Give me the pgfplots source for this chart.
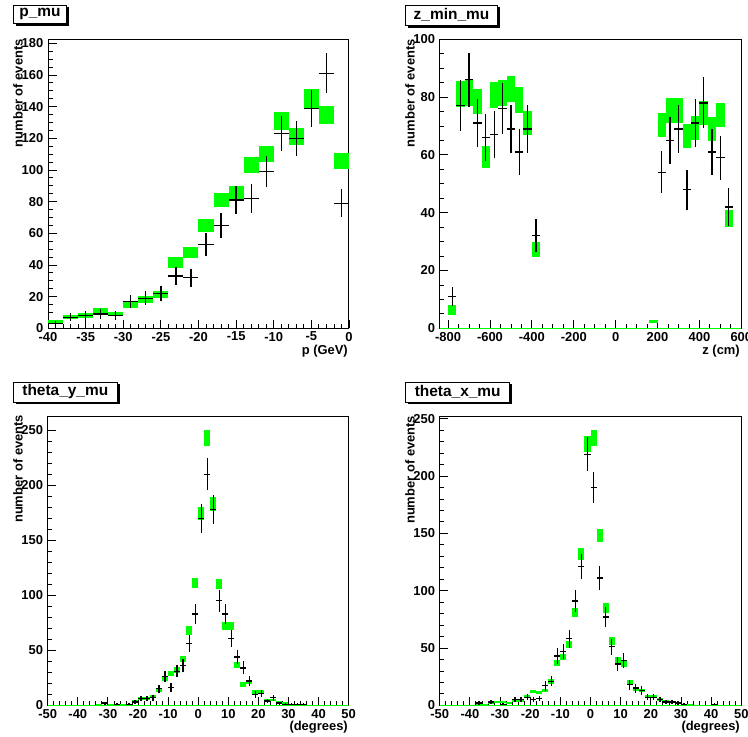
\documentclass[border=0pt]{standalone}
\usepackage{fontspec}
\setmainfont{Liberation Sans}
\usepackage{pgfplots}
\usepackage{pgfplotstable}
\pgfplotsset{compat=1.18}
\definecolor{rootgreen}{RGB}{0,255,0}

% ---------------- p_mu ----------------
\pgfplotstableread{
x mc mcerr
-39 4.4 1.05
-37 7 1.32
-35 8 1.41
-33 11.4 1.69
-31 9 1.5
-29 14.7 1.92
-27 18.3 2.14
-25 21.5 2.32
-23 41.5 3.22
-21 47.6 3.45
-19 65 4.03
-17 81 4.5
-15 85.5 4.62
-13 103 5.07
-11 110 5.24
-9 131 5.72
-7 121 5.5
-5 145 6.02
-3 134.5 5.8
-1 105.7 5.14
}\pmumc
\pgfplotstableread{
x data derr
-39 3 1.73
-37 7 2.65
-35 8 2.83
-33 9 3
-31 8 2.83
-29 17 4.12
-27 19 4.36
-25 22 4.69
-23 33 5.74
-21 32 5.66
-19 53 7.28
-17 65 8.06
-15 81 9
-13 82 9.06
-11 99 9.95
-9 123 11.09
-7 120 10.95
-5 139 11.79
-3 161 12.69
-1 79 8.89
}\pmudata

% ---------------- z_min_mu ----------------
\pgfplotstableread{
x mc mcerr
-780 6.3 1.7
-740 81 4.5
-700 81.3 4.5
-660 78.5 4.43
-620 59.4 3.85
-580 80.7 4.49
-540 81.5 4.51
-500 82.7 4.55
-460 79 4.44
-420 71 4.21
-380 27.3 2.61
180 2.3 0.6
220 70.4 4.2
260 75.5 4.34
300 75.3 4.34
340 66.5 4.08
380 69.4 4.17
420 74.5 4.32
460 68.9 4.15
500 73.8 4.3
540 38 3.08
}\zmc
\pgfplotstableread{
x data derr
-780 11 3.32
-740 77 8.77
-700 86 9.27
-660 71 8.43
-620 66 8.12
-580 67 8.19
-540 76 8.72
-500 69 8.31
-460 61 7.81
-420 69 8.31
-380 32 5.66
220 54 7.35
260 65 8.06
300 69 8.31
340 48 6.93
380 71 8.43
420 78 8.83
460 61 7.81
500 59 7.68
540 42 6.48
}\zdata

% ---------------- theta_y_mu ----------------
\pgfplotstableread{
x mc mcerr
-33 1 0.45
-31 2 0.64
-29 1 0.45
-27 1 0.45
-25 1 0.45
-23 1 0.45
-21 4 0.9
-19 6 1.1
-17 6 1.1
-15 8 1.27
-13 14 1.68
-11 24 2.2
-9 29 2.42
-7 32 2.55
-5 42 2.92
-3 68 3.71
-1 111 4.74
1 174 5.94
3 243 7.01
5 183 6.09
7 110 4.72
9 72 3.82
11 72 3.82
13 37 2.74
15 19 1.96
17 21 2.06
19 12 1.56
21 12 1.56
23 5 1.0
25 5 1.0
27 3 0.78
29 2 0.64
31 1 0.45
33 1 0.45
35 1 0.45
}\tymc
\pgfplotstableread{
x data derr
-31 2 1.41
-27 1 1
-23 1 1
-21 3 1.73
-19 6 2.45
-17 6 2.45
-15 7 2.65
-13 15 3.87
-11 26 5.1
-9 16 4
-7 31 5.57
-5 36 6
-3 56 7.48
-1 83 9.11
1 170 13.04
3 210 14.49
5 178 13.34
7 95 9.75
9 83 9.11
11 61 7.81
13 44 6.63
15 34 5.83
17 22 4.69
19 10 3.16
21 11 3.32
23 4 2
25 7 2.65
27 2 1.41
29 1 1
31 1 1
33 1 1
35 1 1
}\tydata

% ---------------- theta_x_mu ----------------
\pgfplotstableread{
x mc mcerr
-37 1 0.45
-35 1 0.45
-33 2 0.64
-31 3 0.78
-29 3 0.78
-27 2 0.64
-25 4 0.9
-23 4 0.9
-21 8 1.27
-19 12 1.56
-17 11 1.49
-15 13 1.62
-13 21 2.06
-11 37 2.74
-9 42 2.92
-7 53 3.28
-5 81 4.05
-3 132 5.17
-1 228 6.79
1 233 6.87
3 148 5.47
5 85 4.15
7 56 3.37
9 39 2.81
11 36 2.7
13 20 2.01
15 14 1.68
17 13 1.62
19 8 1.27
21 8 1.27
23 5 1.0
25 4 0.9
27 3 0.78
29 2 0.64
31 1 0.45
33 1 0.45
}\txmc
\pgfplotstableread{
x data derr
-37 2 1.41
-33 3 1.73
-29 1 1
-25 5 2.24
-23 5 2.24
-21 7 2.65
-19 5 2.24
-17 6 2.45
-15 17 4.12
-13 21 4.58
-11 43 6.56
-9 47 6.86
-7 58 7.62
-5 91 9.54
-3 121 11
-1 219 14.8
1 190 13.78
3 111 10.54
5 77 8.77
7 51 7.14
9 36 6
11 39 6.24
13 18 4.24
15 15 3.87
17 13 3.61
19 7 2.65
21 7 2.65
23 5 2.24
25 3 1.73
27 3 1.73
29 2 1.41
31 1 1
41 1 1
}\txdata

\pgfplotsset{
  rootaxis/.style={
    scale only axis,
    axis line style={line width=1bp},
    tick align=inside, xtick pos=left, ytick pos=left,
    major tick length=8.5bp, minor tick length=4.5bp,
    every tick/.style={line width=0.8bp, black},
    ticklabel style={font=\bfseries\fontsize{13}{14}\selectfont},
    /pgf/number format/assume math mode=true,
    /pgf/number format/1000 sep={},
    xticklabel style={inner sep=0pt, yshift=-3.5bp},
    yticklabel style={inner sep=0pt, xshift=-4.5bp},
    scaled ticks=false,
  },
  mcbox/.style={draw=none, mark=none,
    error bars/.cd, y dir=both, y explicit, error mark=none,
    error bar style={draw=rootgreen, line width=#1}},
  datacross/.style={draw=none, mark=none,
    error bars/.cd, x dir=both, x fixed=#1, y dir=both, y explicit, error mark=none,
    error bar style={draw=black, line width=1.3bp}},
}
\newcommand{\lab}{\bfseries\fontsize{13}{14}\selectfont}
\newcommand{\ttl}{\bfseries\fontsize{15.5}{16}\selectfont}

\begin{document}
\begin{tikzpicture}
\useasboundingbox (0bp,0bp) rectangle (748bp,737bp);

% ---- panel 1: p_mu ----
\begin{axis}[rootaxis, at={(48bp,408.7bp)}, anchor=south west,
  width=301bp, height=289bp,
  xmin=-40, xmax=0, ymin=0, ymax=182.5,
  xtick={-40,-35,...,0}, ytick={0,20,...,180},
  minor x tick num=4, minor y tick num=3]
\addplot[mcbox=15.05bp] table[x=x, y=mc, y error=mcerr] {\pmumc};
\addplot[datacross=1] table[x=x, y=data, y error=derr] {\pmudata};
\end{axis}

% ---- panel 2: z_min_mu ----
\begin{axis}[rootaxis, at={(439.7bp,408.7bp)}, anchor=south west,
  width=301.6bp, height=289bp,
  xmin=-840, xmax=600, ymin=0, ymax=100,
  xtick={-800,-600,...,600}, ytick={0,20,...,100},
  minor x tick num=3, minor y tick num=3]
\addplot[rootgreen, line width=1bp] coordinates {(-840,0) (600,0)};
\addplot[mcbox=8.38bp] table[x=x, y=mc, y error=mcerr] {\zmc};
\addplot[datacross=20] table[x=x, y=data, y error=derr] {\zdata};
\end{axis}

% ---- panel 3: theta_y_mu ----
\begin{axis}[rootaxis, at={(47.7bp,31.7bp)}, anchor=south west,
  width=301bp, height=289bp,
  xmin=-50, xmax=50, ymin=0, ymax=262.7,
  xtick={-50,-40,...,50}, ytick={0,50,...,250},
  minor x tick num=4, minor y tick num=4]
\addplot[rootgreen, line width=1bp] coordinates {(-50,0) (50,0)};
\addplot[mcbox=6.02bp] table[x=x, y=mc, y error=mcerr] {\tymc};
\addplot[datacross=1] table[x=x, y=data, y error=derr] {\tydata};
\end{axis}

% ---- panel 4: theta_x_mu ----
\begin{axis}[rootaxis, at={(439.7bp,31.7bp)}, anchor=south west,
  width=301.6bp, height=289bp,
  xmin=-50, xmax=50, ymin=0, ymax=252.1,
  xtick={-50,-40,...,50}, ytick={0,50,...,250},
  minor x tick num=4, minor y tick num=4]
\addplot[rootgreen, line width=1bp] coordinates {(-50,0) (50,0)};
\addplot[mcbox=6.03bp] table[x=x, y=mc, y error=mcerr] {\txmc};
\addplot[datacross=1] table[x=x, y=data, y error=derr] {\txdata};
\end{axis}

% ---- axis labels ----
\node[rotate=90, anchor=east, font=\lab, inner sep=0pt] at (18bp,698bp) {number of events};
\node[rotate=90, anchor=east, font=\lab, inner sep=0pt] at (410bp,698bp) {number of events};
\node[rotate=90, anchor=east, font=\lab, inner sep=0pt] at (18bp,322.3bp) {number of events};
\node[rotate=90, anchor=east, font=\lab, inner sep=0pt] at (410bp,321.3bp) {number of events};
\node[anchor=base east, font=\lab, inner sep=0pt] at (348bp,382bp) {p (GeV)};
\node[anchor=base east, font=\lab, inner sep=0pt] at (740bp,382bp) {z (cm)};
\node[anchor=base east, font=\lab, inner sep=0pt] at (348bp,7bp) {(degrees)};
\node[anchor=base east, font=\lab, inner sep=0pt] at (740bp,7bp) {(degrees)};

% ---- title boxes ----
\fill[black] (15.8bp,711bp) rectangle (69.2bp,729.5bp);
\draw[fill=white, line width=0.8bp] (13.3bp,713.7bp) rectangle (66.7bp,732bp);
\node[font=\ttl] at (40bp,722.8bp) {p\_mu};

\fill[black] (408.2bp,709.3bp) rectangle (500bp,729.5bp);
\draw[fill=white, line width=0.8bp] (405.7bp,712bp) rectangle (497.3bp,732bp);
\node[font=\ttl] at (451.5bp,722bp) {z\_min\_mu};

\fill[black] (15.8bp,332.5bp) rectangle (119.8bp,352.5bp);
\draw[fill=white, line width=0.8bp] (13.3bp,335bp) rectangle (117.3bp,355bp);
\node[font=\ttl] at (65.3bp,345bp) {theta\_y\_mu};

\fill[black] (408.2bp,332.5bp) rectangle (512.2bp,352.5bp);
\draw[fill=white, line width=0.8bp] (405.7bp,335bp) rectangle (509.7bp,355bp);
\node[font=\ttl] at (457.7bp,345bp) {theta\_x\_mu};
\end{tikzpicture}
\end{document}
